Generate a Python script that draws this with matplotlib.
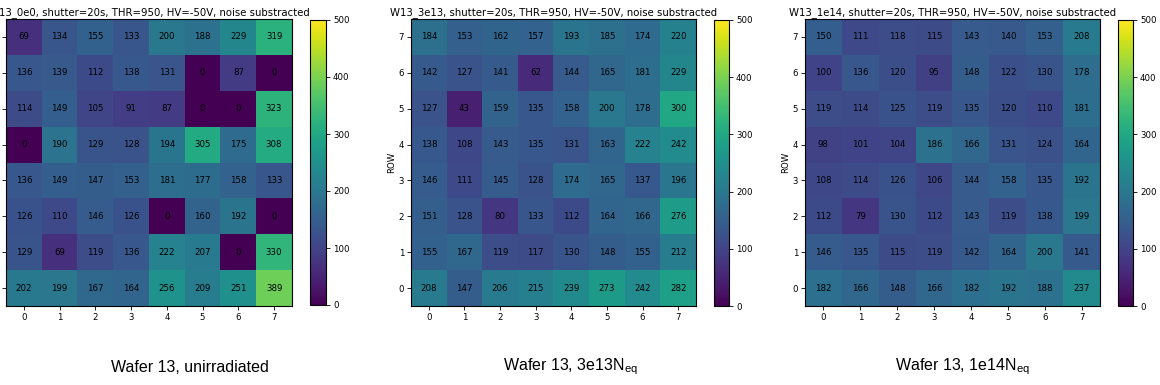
import numpy as np
import matplotlib
matplotlib.use("Agg")
import matplotlib.pyplot as plt
from matplotlib import font_manager

# rows listed from ROW 0 (bottom) to ROW 7 (top); columns 0..7
w13_0e0 = [
    [202, 199, 167, 164, 256, 209, 251, 389],
    [129, 69, 119, 136, 222, 207, 0, 330],
    [126, 110, 146, 126, 0, 160, 192, 0],
    [136, 149, 147, 153, 181, 177, 158, 133],
    [0, 190, 129, 128, 194, 305, 175, 308],
    [114, 149, 105, 91, 87, 0, 0, 323],
    [136, 139, 112, 138, 131, 0, 87, 0],
    [69, 134, 155, 133, 200, 188, 229, 319],
]
w13_3e13 = [
    [208, 147, 206, 215, 239, 273, 242, 282],
    [155, 167, 119, 117, 130, 148, 155, 212],
    [151, 128, 80, 133, 112, 164, 166, 276],
    [146, 111, 145, 128, 174, 165, 137, 196],
    [138, 108, 143, 135, 131, 163, 222, 242],
    [127, 43, 159, 135, 158, 200, 178, 300],
    [142, 127, 141, 62, 144, 165, 181, 229],
    [184, 153, 162, 157, 193, 185, 174, 220],
]
w13_1e14 = [
    [182, 166, 148, 166, 182, 192, 188, 237],
    [146, 135, 115, 119, 142, 164, 200, 141],
    [112, 79, 130, 112, 143, 119, 138, 199],
    [108, 114, 126, 106, 144, 158, 135, 192],
    [98, 101, 104, 186, 166, 131, 124, 164],
    [119, 114, 125, 119, 135, 120, 110, 181],
    [100, 136, 120, 95, 148, 122, 130, 178],
    [150, 111, 118, 115, 143, 140, 153, 208],
]
titles = [
    "W13_0e0, shutter=20s, THR=950, HV=-50V, noise substracted",
    "W13_3e13, shutter=20s, THR=950, HV=-50V, noise substracted",
    "W13_1e14, shutter=20s, THR=950, HV=-50V, noise substracted",
]
captions = ["Wafer 13, unirradiated", r"Wafer 13, 3e13N$_{\mathregular{eq}}$",
            r"Wafer 13, 1e14N$_{\mathregular{eq}}$"]
columns = list(range(8))
rows = list(range(8))
cbar_ticks = [0, 100, 200, 300, 400, 500]

names = {f.name for f in font_manager.fontManager.ttflist}
cap_font = "Liberation Sans Narrow" if "Liberation Sans Narrow" in names else "Liberation Sans"
cap_size = 13.5 if cap_font == "Liberation Sans Narrow" else 11.5

W, H = 1160, 385
fig = plt.figure(figsize=(W / 100, H / 100), dpi=100)

def px(x0, y0, x1, y1):
    return [x0 / W, 1 - y1 / H, (x1 - x0) / W, (y1 - y0) / H]

ax_boxes = [(6, 19, 292, 306), (411, 19, 696, 306), (805, 19, 1100, 306)]
cb_boxes = [(310, 20, 326, 305), (714, 20, 729, 306), (1118, 20, 1133, 306)]
cap_x = [190, 570, 962]
datasets = [w13_0e0, w13_3e13, w13_1e14]

for i, data in enumerate(datasets):
    arr = np.array(data)
    ax = fig.add_axes(px(*ax_boxes[i]))
    im = ax.imshow(arr, cmap="viridis", vmin=0, vmax=500, origin="lower", aspect="auto")
    for r in rows:
        for c in columns:
            ax.text(c, r, str(arr[r, c]), ha="center", va="center", fontsize=6.2, color="black")
    ax.set_xticks(columns)
    ax.set_yticks(rows)
    ax.tick_params(labelsize=6.2, length=3, width=0.6, pad=2)
    if i == 0:
        # the left edge of this panel is cropped in the reference
        ax.tick_params(labelleft=False)
    else:
        ax.set_ylabel("ROW", fontsize=6.2, labelpad=2)
    ax.set_title(titles[i], fontsize=7.25, pad=3)
    for s in ax.spines.values():
        s.set_linewidth(0.8)
    cax = fig.add_axes(px(*cb_boxes[i]))
    cb = fig.colorbar(im, cax=cax, ticks=cbar_ticks)
    cb.ax.tick_params(labelsize=6.2, length=3, width=0.6, pad=2)
    cb.outline.set_linewidth(0.8)
    fig.text(cap_x[i] / W, 1 - 367 / H, captions[i], ha="center", va="center",
             fontsize=cap_size, family=cap_font)

fig.savefig("out.png", dpi=100)
